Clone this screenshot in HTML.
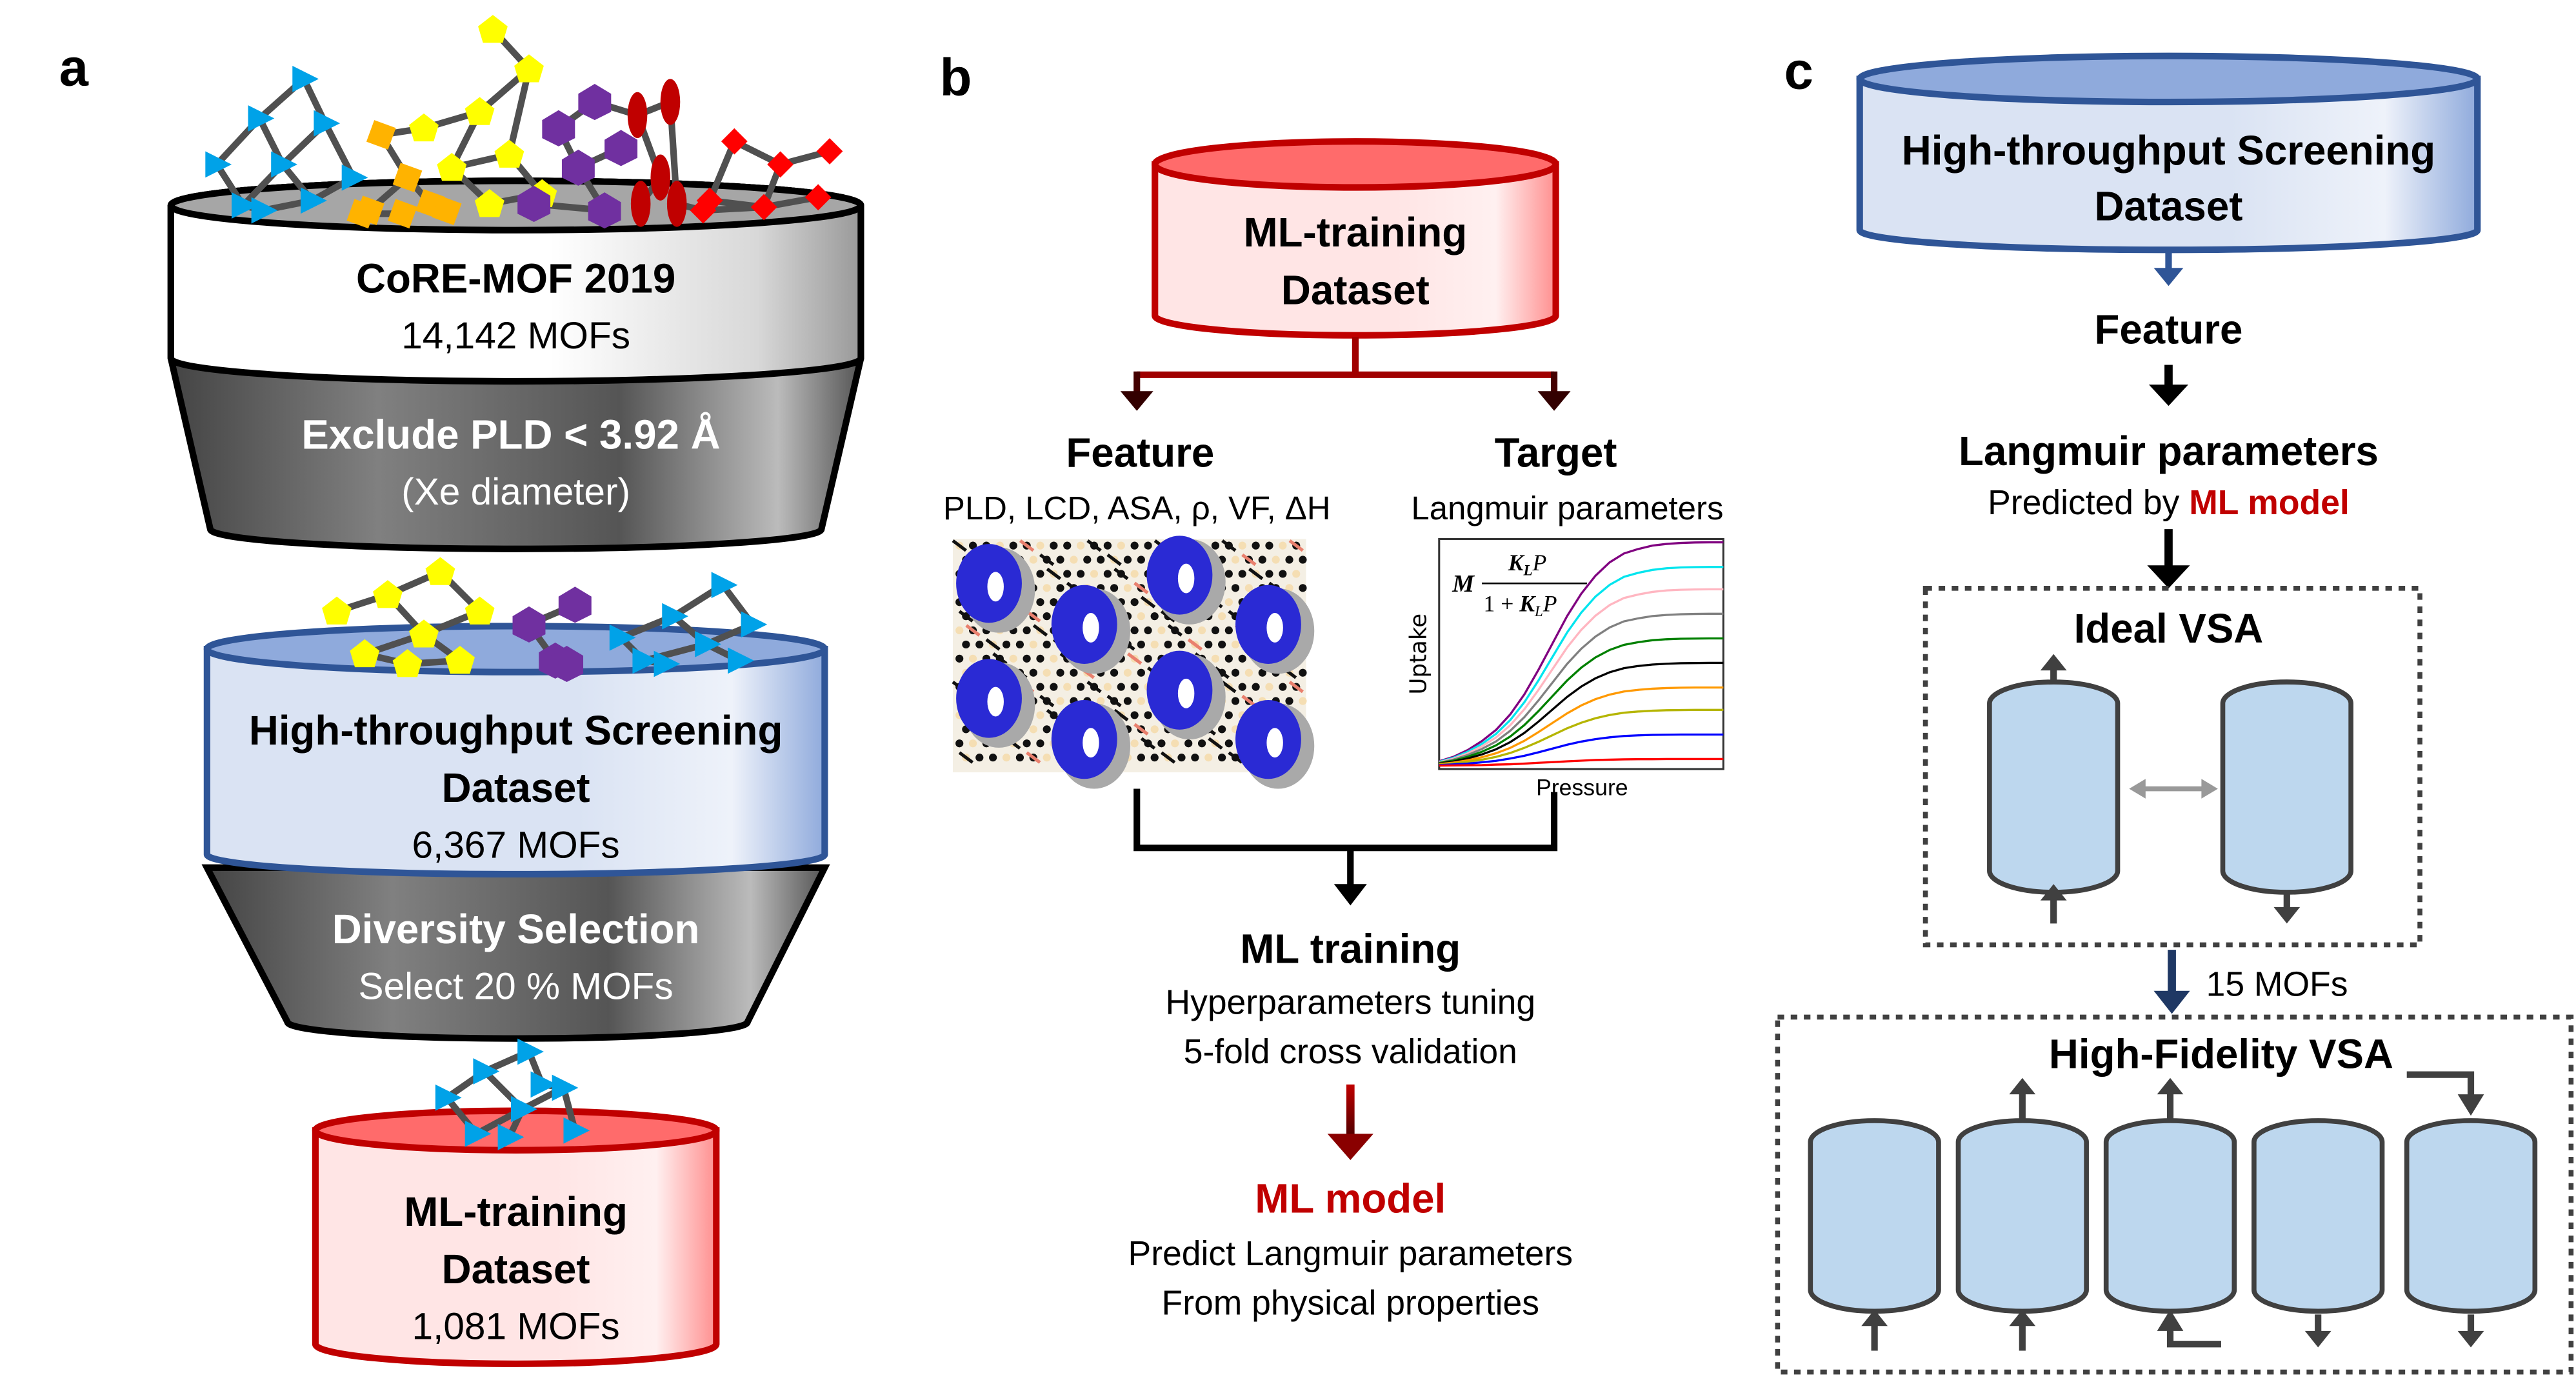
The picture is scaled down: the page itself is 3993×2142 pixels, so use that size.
<!DOCTYPE html>
<html><head><meta charset="utf-8"><style>
html,body{margin:0;padding:0;background:#fff;}
svg{display:block;font-family:"Liberation Sans Narrow","Liberation Sans",sans-serif;}
</style></head><body>
<svg id="fig" width="3993" height="2142" viewBox="0 0 1568 841" xmlns="http://www.w3.org/2000/svg">
<defs>
<linearGradient id="gWhite" x1="0" x2="1"><stop offset="0" stop-color="#fff"/><stop offset="0.55" stop-color="#fff"/><stop offset="0.85" stop-color="#d8d8d8"/><stop offset="1" stop-color="#999"/></linearGradient>
<linearGradient id="gDark" x1="0" x2="1"><stop offset="0" stop-color="#444"/><stop offset="0.3" stop-color="#808080"/><stop offset="0.65" stop-color="#555"/><stop offset="0.88" stop-color="#bbb"/><stop offset="1" stop-color="#555"/></linearGradient>
<linearGradient id="gBlue" x1="0" x2="1"><stop offset="0" stop-color="#dae3f3"/><stop offset="0.6" stop-color="#dae3f3"/><stop offset="0.85" stop-color="#eef2fa"/><stop offset="1" stop-color="#8faadc"/></linearGradient>
<linearGradient id="gRed" x1="0" x2="1"><stop offset="0" stop-color="#ffe5e5"/><stop offset="0.6" stop-color="#ffe5e5"/><stop offset="0.85" stop-color="#fff0f0"/><stop offset="1" stop-color="#ff8f8f"/></linearGradient>
<linearGradient id="gArrow" gradientUnits="userSpaceOnUse" x1="0" x2="0" y1="660" y2="700"><stop offset="0" stop-color="#c00000"/><stop offset="1" stop-color="#300"/></linearGradient>
</defs>

<!-- Panel a -->
<text x="36" y="52" font-size="32" font-weight="bold">a</text>
<g id="mofTopBack"></g>
<g>
<path d="M104,125 A210,15 0 0 1 524,125 L524,218 L500,322 A186,12 0 0 1 128,322 L104,218 Z" fill="url(#gDark)" stroke="#000" stroke-width="4"/>
<path d="M104,125 A210,15 0 0 1 524,125 L524,218 A210,14 0 0 1 104,218 Z" fill="url(#gWhite)" stroke="#000" stroke-width="4"/>
<ellipse cx="314" cy="125" rx="210" ry="15" fill="#a6a6a6" stroke="#000" stroke-width="4"/>
<text x="314" y="178" font-size="25" font-weight="bold" text-anchor="middle">CoRE-MOF 2019</text>
<text x="314" y="212" font-size="23" text-anchor="middle">14,142 MOFs</text>
<text x="311" y="273" font-size="25" font-weight="bold" fill="#fff" text-anchor="middle">Exclude PLD &lt; 3.92 Å</text>
<text x="314" y="307" font-size="23" fill="#fff" text-anchor="middle">(Xe diameter)</text>
</g>
<g id="mofTop"></g>
<g>
<path d="M126,528 L502,528 L455,622 A140,10 0 0 1 175,622 Z" fill="url(#gDark)" stroke="#000" stroke-width="4"/>
<path d="M126,395 L502,395 L502,520 A188,12 0 0 1 126,520 Z" fill="url(#gBlue)" stroke="#2f5597" stroke-width="4"/>
<ellipse cx="314" cy="395" rx="188" ry="14" fill="#8faadc" stroke="#2f5597" stroke-width="4"/>
<text x="314" y="453" font-size="25" font-weight="bold" text-anchor="middle">High-throughput Screening</text>
<text x="314" y="488" font-size="25" font-weight="bold" text-anchor="middle">Dataset</text>
<text x="314" y="522" font-size="23" text-anchor="middle">6,367 MOFs</text>
<text x="314" y="574" font-size="25" font-weight="bold" fill="#fff" text-anchor="middle">Diversity Selection</text>
<text x="314" y="608" font-size="23" fill="#fff" text-anchor="middle">Select 20 % MOFs</text>
</g>
<g id="mofMid"></g>
<g>
<path d="M192,688 L436,688 L436,818 A122,12 0 0 1 192,818 Z" fill="url(#gRed)" stroke="#c00000" stroke-width="4"/>
<ellipse cx="314" cy="688" rx="122" ry="12" fill="#ff6b6b" stroke="#c00000" stroke-width="4"/>
<text x="314" y="746" font-size="25" font-weight="bold" text-anchor="middle">ML-training</text>
<text x="314" y="781" font-size="25" font-weight="bold" text-anchor="middle">Dataset</text>
<text x="314" y="815" font-size="23" text-anchor="middle">1,081 MOFs</text>
</g>
<g id="mofBot"></g>

<!-- Panel b -->
<text x="572" y="58" font-size="32" font-weight="bold">b</text>
<g>
<path d="M703,100 L947,100 L947,192 A122,12 0 0 1 703,192 Z" fill="url(#gRed)" stroke="#c00000" stroke-width="4"/>
<ellipse cx="825" cy="100" rx="122" ry="14" fill="#ff6b6b" stroke="#c00000" stroke-width="4"/>
<text x="825" y="150" font-size="25" font-weight="bold" text-anchor="middle">ML-training</text>
<text x="825" y="185" font-size="25" font-weight="bold" text-anchor="middle">Dataset</text>
</g>
<g fill="none" stroke-width="4">
<path d="M825,205 L825,228 M692,228 L946,228" stroke="#a00000"/>
<path d="M692,226 L692,240 M946,226 L946,240" stroke="#400"/>
<path d="M682,238 L702,238 L692,250 Z M936,238 L956,238 L946,250 Z" fill="#300" stroke="none"/>
</g>
<text x="694" y="284" font-size="25" font-weight="bold" text-anchor="middle">Feature</text>
<text x="947" y="284" font-size="25" font-weight="bold" text-anchor="middle">Target</text>
<text x="692" y="316" font-size="20" text-anchor="middle">PLD, LCD, ASA, ρ, VF, ΔH</text>
<text x="954" y="316" font-size="20" text-anchor="middle">Langmuir parameters</text>
<g id="struct"></g>
<g id="chart"></g>
<g fill="none" stroke="#000" stroke-width="4">
<path d="M692,480 L692,516 L946,516 L946,482 M822,516 L822,540"/>
<path d="M812,538 L832,538 L822,551 Z" fill="#000" stroke="none"/>
</g>
<text x="822" y="586" font-size="25" font-weight="bold" text-anchor="middle">ML training</text>
<text x="822" y="617" font-size="21" text-anchor="middle">Hyperparameters tuning</text>
<text x="822" y="647" font-size="21" text-anchor="middle">5-fold cross validation</text>
<path d="M822,660 L822,692" stroke="url(#gArrow)" stroke-width="5" fill="none"/>
<path d="M808,690 L836,690 L822,706 Z" fill="#8a0000"/>
<text x="822" y="738" font-size="25" font-weight="bold" fill="#c00000" text-anchor="middle">ML model</text>
<text x="822" y="770" font-size="21" text-anchor="middle">Predict Langmuir parameters</text>
<text x="822" y="800" font-size="21" text-anchor="middle">From physical properties</text>

<!-- Panel c -->
<text x="1086" y="54" font-size="32" font-weight="bold">c</text>
<g>
<path d="M1132,48 L1508,48 L1508,140 A188,12 0 0 1 1132,140 Z" fill="url(#gBlue)" stroke="#2f5597" stroke-width="4"/>
<ellipse cx="1320" cy="48" rx="188" ry="14" fill="#8faadc" stroke="#2f5597" stroke-width="4"/>
<text x="1320" y="100" font-size="25" font-weight="bold" text-anchor="middle">High-throughput Screening</text>
<text x="1320" y="134" font-size="25" font-weight="bold" text-anchor="middle">Dataset</text>
</g>
<path d="M1320,152 L1320,165" stroke="#2f5597" stroke-width="4"/><path d="M1311,163 L1329,163 L1320,174 Z" fill="#2f5597"/>
<text x="1320" y="209" font-size="25" font-weight="bold" text-anchor="middle">Feature</text>
<path d="M1320,222 L1320,236" stroke="#000" stroke-width="5"/><path d="M1308,234 L1332,234 L1320,247 Z" fill="#000"/>
<text x="1320" y="283" font-size="25" font-weight="bold" text-anchor="middle">Langmuir parameters</text>
<text x="1320" y="313" font-size="21" text-anchor="middle">Predicted by <tspan font-weight="bold" fill="#c00000">ML model</tspan></text>
<path d="M1320,322 L1320,346" stroke="#000" stroke-width="5"/><path d="M1307,344 L1333,344 L1320,358 Z" fill="#000"/>
<rect x="1172" y="358" width="301" height="217" fill="none" stroke="#404040" stroke-width="3" stroke-dasharray="4,4"/>
<text x="1320" y="391" font-size="25" font-weight="bold" text-anchor="middle">Ideal VSA</text>
<g id="ideal"></g>
<path d="M1300,480 L1346,480" stroke="#999" stroke-width="3"/><path d="M1296,480 L1306,474 L1306,486 Z M1350,480 L1340,474 L1340,486 Z" fill="#999"/>
<path d="M1322,578 L1322,605" stroke="#1f3864" stroke-width="5"/><path d="M1311,603 L1333,603 L1322,617 Z" fill="#1f3864"/>
<text x="1386" y="606" font-size="21" text-anchor="middle">15 MOFs</text>
<rect x="1082" y="619" width="483" height="216" fill="none" stroke="#404040" stroke-width="3" stroke-dasharray="4,4"/>
<text x="1352" y="650" font-size="25" font-weight="bold" text-anchor="middle">High-Fidelity VSA</text>
<g id="hf"></g>
</svg>
<script>
const NS='http://www.w3.org/2000/svg';
function mk(p,t,a){const e=document.createElementNS(NS,t);for(const k in a)e.setAttribute(k,a[k]);p.appendChild(e);return e;}

// Langmuir chart data
const satLevels=[1.0,0.89,0.79,0.68,0.57,0.46,0.35,0.25,0.14,0.03];
const curveColors=['#800080','#00e5ee','#ffb6c1','#808080','#008000','#000000','#ff9900','#b5b500','#0000ff','#ff0000'];
const pressureSamples=[0,0.05,0.1,0.15,0.2,0.25,0.3,0.35,0.4,0.45,0.5,0.55,0.6,0.65,0.7,0.75,0.8,0.85,0.9,0.95,1.0];
const relShape=[0.02,0.04,0.07,0.11,0.16,0.23,0.32,0.43,0.55,0.67,0.77,0.85,0.91,0.95,0.97,0.985,0.993,0.997,0.999,1,1];

const ch=document.getElementById('chart');
const cx0=876,cx1=1049,cy0=328,cy1=468;
const xS=v=>cx0+v*(cx1-cx0), yS=v=>cy1-2-v*(cy1-cy0-4);
mk(ch,'rect',{x:cx0,y:cy0,width:cx1-cx0,height:cy1-cy0,fill:'#fff',stroke:'#333','stroke-width':1.2});
satLevels.forEach((m,i)=>{
 const d=pressureSamples.map((p,j)=>(j?'L':'M')+xS(p).toFixed(1)+','+yS(m*relShape[j]).toFixed(1)).join(' ');
 const pl=mk(ch,'path',{d:d,fill:'none',stroke:curveColors[i],'stroke-width':1.3});
 
 
});
let t=mk(ch,'text',{x:868,y:398,'font-size':14,'text-anchor':'middle',transform:'rotate(-90 868 398)','font-family':'DejaVu Sans'});t.textContent='Uptake';


t=mk(ch,'text',{x:963,y:484,'font-size':14,'text-anchor':'middle'});t.textContent='Pressure';


const fg=mk(ch,'g',{'font-family':'Liberation Serif','font-style':'italic','font-weight':'bold'});


t=mk(fg,'text',{x:884,y:360,'font-size':15});t.textContent='M';
t=mk(fg,'text',{x:918,y:347,'font-size':14});t.innerHTML='K<tspan font-size="9" dy="3">L</tspan><tspan dy="-3" font-weight="normal">P</tspan>';
mk(fg,'line',{x1:902,y1:355,x2:966,y2:355,stroke:'#000','stroke-width':1});
t=mk(fg,'text',{x:903,y:372,'font-size':14,'font-style':'normal','font-weight':'normal'});t.innerHTML='1 + <tspan font-style="italic" font-weight="bold">K</tspan><tspan font-size="9" dy="3" font-style="italic">L</tspan><tspan dy="-3" font-style="italic">P</tspan>';

// structure image
const st=document.getElementById('struct');
mk(st,'rect',{x:580,y:328,width:215,height:142,fill:'#f4efe4'});
for(let i=0;i<26;i++)for(let j=0;j<16;j++){
 const x=584+i*8.2+((j%2)*4),y=332+j*8.6;
 mk(st,'circle',{cx:x,cy:y,r:2.4,fill:((i+j)%3==0)?'#f5deb3':'#111'});
 if((i*7+j*3)%5==0)mk(st,'line',{x1:x-4,y1:y-3,x2:x+4,y2:y+3,stroke:(i%4==1)?'#e9806e':'#111','stroke-width':2});
}
[[602,355],[718,350],[660,380],[772,380],[602,425],[718,420],[660,450],[772,450]].forEach(([x,y])=>{
 mk(st,'ellipse',{cx:x+6,cy:y+4,rx:22,ry:26,fill:'#a9a9a9'});
 mk(st,'ellipse',{cx:x,cy:y,rx:20,ry:24,fill:'#2a2ad4'});
 mk(st,'ellipse',{cx:x+4,cy:y+2,rx:5,ry:9,fill:'#fff'});
});

// MOF decorations
function net(g,nodes,edges){
 edges.forEach(([a,b])=>mk(g,'line',{x1:nodes[a][0],y1:nodes[a][1],x2:nodes[b][0],y2:nodes[b][1],stroke:'#505050','stroke-width':4}));
 nodes.forEach(([x,y,c])=>{
  if(c=='b')mk(g,'path',{d:`M${x-7},${y-8}L${x+9},${y}L${x-7},${y+8}Z`,fill:'#00a2e8'});
  else if(c=='y')mk(g,'path',{d:`M${x},${y-9}L${x+9},${y-2}L${x+6},${y+8}L${x-6},${y+8}L${x-9},${y-2}Z`,fill:'#ffff00'});
  else if(c=='o')mk(g,'rect',{x:x-7,y:y-7,width:14,height:14,fill:'#ffb300',transform:`rotate(20 ${x} ${y})`});
  else if(c=='p')mk(g,'path',{d:`M${x},${y-11}L${x+10},${y-5}L${x+10},${y+6}L${x},${y+11}L${x-10},${y+6}L${x-10},${y-5}Z`,fill:'#7030a0'});
  else if(c=='r')mk(g,'path',{d:`M${x},${y-8}L${x+8},${y}L${x},${y+8}L${x-8},${y}Z`,fill:'#ff0000'});
  else if(c=='R')mk(g,'ellipse',{cx:x,cy:y,rx:6,ry:14,fill:'#c00000'});
 });
}
const topNet=document.getElementById('mofTop');
net(topNet,[[132,100,'b'],[158,72,'b'],[185,48,'b'],[148,125,'b'],[172,100,'b'],[198,75,'b'],[160,128,'b'],[190,122,'b'],[215,108,'b'],
 [232,82,'o'],[248,108,'o'],[262,124,'o'],[225,128,'o'],[272,128,'o'],[220,130,'o'],[245,130,'o'],
 [300,18,'y'],[322,42,'y'],[292,68,'y'],[258,78,'y'],[275,102,'y'],[310,94,'y'],[330,118,'y'],[298,124,'y'],
 [340,78,'p'],[362,62,'p'],[352,102,'p'],[378,90,'p'],[368,128,'p'],[325,124,'p'],
 [388,70,'R'],[408,62,'R'],[402,108,'R'],[412,124,'R'],[390,124,'R'],
 [447,86,'r'],[475,100,'r'],[505,92,'r'],[432,122,'r'],[465,126,'r'],[498,120,'r'],[428,128,'r']],
 [[0,1],[1,2],[3,4],[4,5],[6,7],[7,8],[0,3],[3,6],[1,4],[4,7],[2,5],[5,8],[9,10],[10,11],[12,10],[11,13],[14,15],[16,17],[17,18],[18,19],[19,9],[18,20],[20,21],[21,17],[21,22],[22,23],[20,23],[24,25],[24,26],[26,27],[26,28],[28,29],[25,30],[30,31],[30,32],[31,33],[32,34],[35,36],[36,37],[35,38],[38,39],[39,40],[39,41],[36,39],[33,41]]);
const mid=document.getElementById('mofMid');
net(mid,[[205,372,'y'],[236,362,'y'],[268,348,'y'],[258,386,'y'],[222,398,'y'],[292,372,'y'],[280,402,'y'],[248,404,'y'],
 [322,380,'p'],[350,368,'p'],[338,402,'p'],[345,404,'p'],
 [378,388,'b'],[410,375,'b'],[440,356,'b'],[392,402,'b'],[430,392,'b'],[458,380,'b'],[405,404,'b'],[450,402,'b']],
 [[0,1],[1,2],[1,3],[3,4],[3,5],[5,2],[3,6],[6,7],[4,7],[8,9],[8,10],[10,11],[12,13],[13,14],[12,15],[15,16],[13,16],[14,17],[16,17],[15,18],[16,19]]);
const bot=document.getElementById('mofBot');
net(bot,[[272,668,'b'],[295,652,'b'],[322,640,'b'],[290,690,'b'],[318,675,'b'],[343,662,'b'],[310,692,'b'],[350,688,'b'],[330,660,'b']],
 [[0,1],[1,2],[3,4],[4,5],[0,3],[1,4],[2,8],[4,6],[5,7],[8,5]]);

// VSA columns
function col(g,x,y0,y1){
 const c=mk(g,'path',{d:`M${x-39},${y0} A39,13 0 0 1 ${x+39},${y0} L${x+39},${y1} A39,13 0 0 1 ${x-39},${y1} Z`,fill:'#bdd7ee',stroke:'#404040','stroke-width':3});
 
 
}
function arr(g,x,y1,y2){
 const dir=y2<y1?-1:1;
 mk(g,'line',{x1:x,y1:y1,x2:x,y2:y2-dir*8,stroke:'#404040','stroke-width':4});
 mk(g,'path',{d:`M${x-8},${y2-dir*10}L${x+8},${y2-dir*10}L${x},${y2}Z`,fill:'#404040'});
}
const ideal=document.getElementById('ideal');
col(ideal,1250,428,530);col(ideal,1392,428,530);
arr(ideal,1250,414,398);arr(ideal,1250,562,538);arr(ideal,1392,544,562);
const hf=document.getElementById('hf');
[1141,1231,1321,1411,1504].forEach(x=>col(hf,x,695,785));
arr(hf,1231,681,656);arr(hf,1321,681,656);
mk(hf,'path',{d:'M1465,654 L1504,654 L1504,668',fill:'none',stroke:'#404040','stroke-width':4});
mk(hf,'path',{d:'M1496,666L1512,666L1504,679Z',fill:'#404040'});
arr(hf,1141,822,797);arr(hf,1231,822,797);
mk(hf,'path',{d:'M1352,818 L1321,818 L1321,808',fill:'none',stroke:'#404040','stroke-width':4});
mk(hf,'path',{d:'M1313,810L1329,810L1321,797Z',fill:'#404040'});
arr(hf,1411,800,820);arr(hf,1504,800,820);
</script>
</body></html>
